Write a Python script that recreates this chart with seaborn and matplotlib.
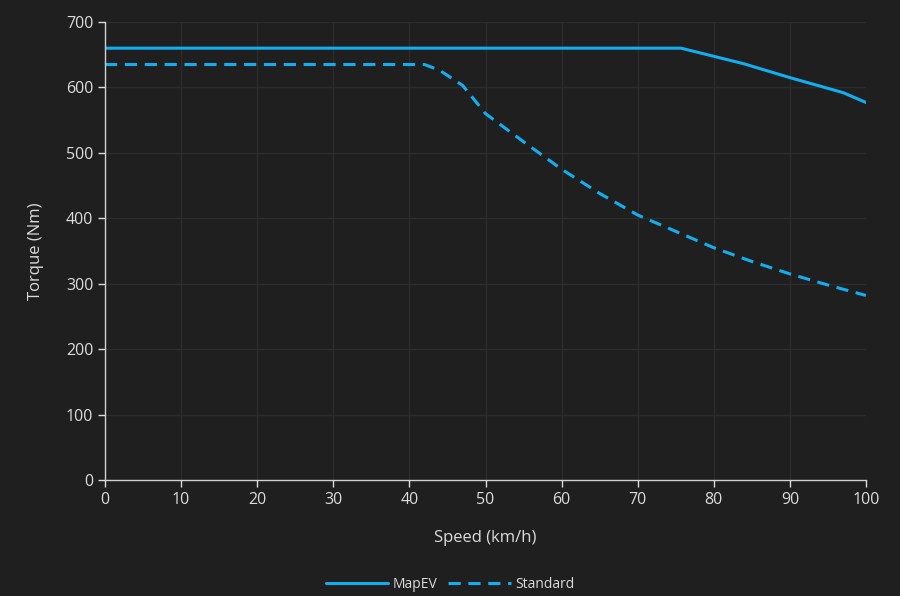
import matplotlib
matplotlib.use("Agg")
import matplotlib.pyplot as plt
import seaborn as sns
import pandas as pd

mapev_speed = [0, 10, 20, 30, 40, 50, 60, 70, 75.7, 84, 90, 97, 100]
mapev_torque = [660, 660, 660, 660, 660, 660, 660, 660, 660, 636, 615, 592, 577]
std_speed = [0, 10, 20, 30, 40, 42, 44, 47, 50, 55, 60, 65, 70, 76, 80, 85, 90, 95, 100]
std_torque = [635, 635, 635, 635, 635, 635, 626, 603, 560, 517, 475, 438, 405, 375, 355, 334, 315, 298, 282]

df = pd.concat([
    pd.DataFrame({"Speed": mapev_speed, "Torque": mapev_torque, "Series": "MapEV"}),
    pd.DataFrame({"Speed": std_speed, "Torque": std_torque, "Series": "Standard"}),
])

bg = "#1f1f1f"
txt = "#dcdcdc"
line_c = "#12aef0"

sns.set_theme(style="dark")
plt.rcParams["font.family"] = ["Open Sans", "DejaVu Sans"]

fig = plt.figure(figsize=(9, 5.96), dpi=100, facecolor=bg)
ax = fig.add_axes([105/900, 1-480/596, (866-105)/900, (480-22)/596])
ax.set_facecolor(bg)

sns.lineplot(data=df, x="Speed", y="Torque", hue="Series", style="Series",
             palette=[line_c, line_c], dashes={"MapEV": "", "Standard": (4, 2.5)},
             linewidth=2.2, ax=ax, sort=False, estimator=None)

ax.set_xlim(0, 100)
ax.set_ylim(0, 700)
ax.set_xticks(range(0, 101, 10))
ax.set_yticks(range(0, 701, 100))
ax.grid(True, color="#2c2c2c", linewidth=1)
for s in ["top", "right"]:
    ax.spines[s].set_visible(False)
for s in ["left", "bottom"]:
    ax.spines[s].set_visible(True)
    ax.spines[s].set_color("#d0d0d0")
    ax.spines[s].set_linewidth(1)
ax.tick_params(axis="both", colors=txt, labelsize=11.5, length=5, width=1,
               direction="out", bottom=True, left=True, labelcolor=txt)
ax.set_xlabel("Speed (km/h)", color=txt, fontsize=12, labelpad=16)
ax.set_ylabel("Torque (Nm)", color=txt, fontsize=12, labelpad=16)

handles, labels = ax.get_legend_handles_labels()
ax.get_legend().remove()
leg = fig.legend(handles, labels, loc="center", bbox_to_anchor=(0.5, 1 - 584/596), ncol=2,
                 frameon=False, fontsize=10, handlelength=4.5, handletextpad=0.3,
                 columnspacing=0.8, labelcolor=txt)
for h in leg.legend_handles:
    h.set_linewidth(2.2)

fig.savefig("out.png", dpi=100, facecolor=bg)
